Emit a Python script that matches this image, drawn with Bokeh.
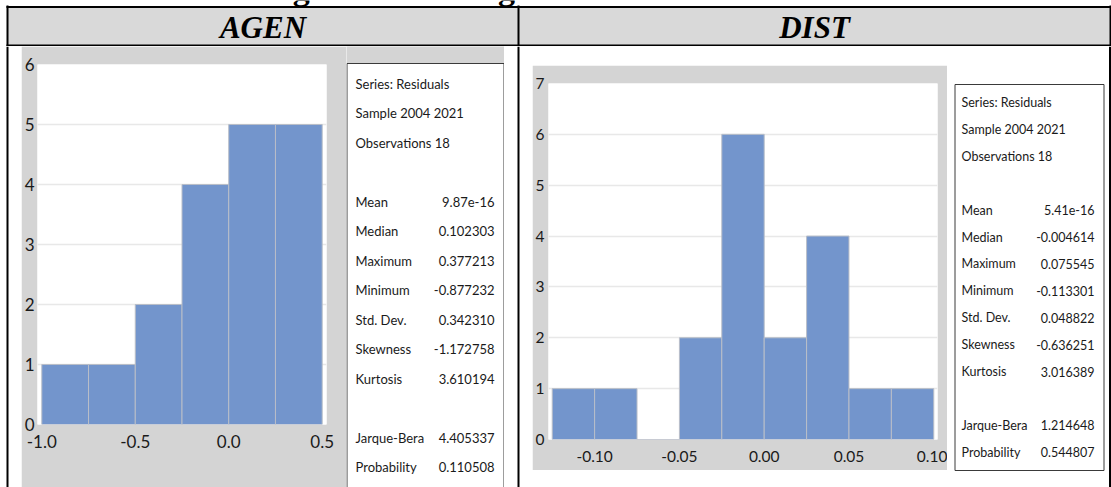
from bokeh.plotting import figure
from bokeh.layouts import row, column
from bokeh.models import Range1d, FixedTicker, Spacer
from bokeh.core.properties import value
from bokeh.embed import file_html
from bokeh.resources import INLINE

# ---------------- data ----------------
caption = "Figure 05: Histogram of Residuals data"
titles = ["AGEN", "DIST"]

agen_edges = [-1.0, -0.75, -0.5, -0.25, 0.0, 0.25, 0.5]
agen_counts = [1, 1, 2, 4, 5, 5]
agen_xticks = [-1.0, -0.5, 0.0, 0.5]
agen_xlabels = ["-1.0", "-0.5", "0.0", "0.5"]
agen_yticks = [0, 1, 2, 3, 4, 5, 6]

dist_edges = [-0.125, -0.100, -0.075, -0.050, -0.025, 0.000, 0.025, 0.050, 0.075, 0.100]
dist_counts = [1, 1, 0, 2, 6, 2, 4, 1, 1]
dist_xticks = [-0.10, -0.05, 0.0, 0.05, 0.10]
dist_xlabels = ["-0.10", "-0.05", "0.00", "0.05", "0.10"]
dist_yticks = [0, 1, 2, 3, 4, 5, 6, 7]

info_lines = ["Series: Residuals", "Sample 2004 2021", "Observations 18"]
stat_names = ["Mean", "Median", "Maximum", "Minimum", "Std. Dev.", "Skewness", "Kurtosis"]
agen_stats = ["9.87e-16", "0.102303", "0.377213", "-0.877232", "0.342310", "-1.172758", "3.610194"]
dist_stats = ["5.41e-16", "-0.004614", "0.075545", "-0.113301", "0.048822", "-0.636251", "3.016389"]
test_names = ["Jarque-Bera", "Probability"]
agen_tests = ["4.405337", "0.110508"]
dist_tests = ["1.214648", "0.544807"]

# ---------------- styles ----------------
HEADER_GRAY = "#d9d9d9"
PANEL_GRAY = "#d4d4d4"
BAR = "#7395cc"
BAR_EDGE = "#b9bec8"
GRID = "#e8e8e8"
INK = "#1a1a1a"
FONT = "Lato"
SERIF = "Liberation Serif"


def canvas(w, h, bg="white"):
    """A blank figure whose data units are pixels (y grows downwards)."""
    p = figure(width=w, height=h, x_range=Range1d(0, w), y_range=Range1d(h, 0),
               output_backend="svg", toolbar_location=None,
               x_axis_location=None, y_axis_location=None, min_border=0)
    p.grid.visible = False
    p.outline_line_color = None
    p.background_fill_color = bg
    p.border_fill_color = bg
    return p


def vline(p, x, y0, y1, width=2):
    p.segment(x0=[x], y0=[y0], x1=[x], y1=[y1], line_color="black", line_width=width)


# ---------------- header strip ----------------
header = canvas(1111, 46)
# the page's caption runs off the top edge; only its lowest strokes show
header.text(x=[262], y=[-12], text=[caption], text_font=value(SERIF), text_font_style="bold",
            text_font_size="34px", text_color="black", text_baseline="middle", text_align="left")
header.quad(left=[7, 518], right=[518, 1110], bottom=[45, 45], top=[6.5, 6.5],
            fill_color=HEADER_GRAY, line_color=None)
header.segment(x0=[6, 6], y0=[6.5, 45], x1=[1111, 1111], y1=[6.5, 45],
               line_color="black", line_width=2.2)
for xx in (7, 518, 1110):
    vline(header, xx, 5, 46)
header.text(x=[262.5, 814], y=[27, 27], text=titles, text_font=value(SERIF), text_font_style="bold italic",
            text_font_size="31px", text_color="black", text_baseline="middle", text_align="center")


# ---------------- histograms ----------------
def histogram(edges, counts, x0, x1, ymax, w, h, borders, xticks, xlabels, yticks,
              tick_size, x_standoff, y_standoff):
    left, right, top, bottom = borders
    p = figure(width=w, height=h, x_range=Range1d(x0, x1), y_range=Range1d(0, ymax),
               output_backend="svg", toolbar_location=None,
               min_border_left=left, min_border_right=right,
               min_border_top=top, min_border_bottom=bottom)
    p.border_fill_color = PANEL_GRAY
    p.background_fill_color = "white"
    p.outline_line_color = None
    p.xgrid.visible = False
    p.ygrid.ticker = FixedTicker(ticks=yticks)
    p.ygrid.grid_line_color = GRID
    p.ygrid.grid_line_width = 1.5
    p.quad(left=edges[:-1], right=edges[1:], bottom=0, top=counts,
           fill_color=BAR, line_color=BAR_EDGE, line_width=1)

    p.xaxis.ticker = FixedTicker(ticks=xticks)
    p.xaxis.major_label_overrides = dict(zip(xticks, xlabels))
    p.xaxis.major_label_standoff = x_standoff
    p.yaxis.ticker = FixedTicker(ticks=yticks)
    p.yaxis.major_label_standoff = y_standoff
    for ax in (p.xaxis, p.yaxis):
        ax.axis_line_color = None
        ax.major_tick_line_color = None
        ax.minor_tick_line_color = None
        ax.major_tick_out = 0
        ax.major_tick_in = 0
        ax.major_label_text_font = FONT
        ax.major_label_text_font_size = tick_size
        ax.major_label_text_color = INK
    return p


agen_hist = histogram(agen_edges, agen_counts, -1.023, 0.523, 6, 325, 441,
                      (13, 20, 18, 63), agen_xticks, agen_xlabels, agen_yticks,
                      "17px", 10, 3)
dist_hist = histogram(dist_edges, dist_counts, -0.1272, 0.1022, 7, 415, 405,
                      (12, 10, 18, 31), dist_xticks, dist_xlabels, dist_yticks,
                      "15.5px", 11, 4)


# ---------------- statistics boxes ----------------
def stats_box(p, box, lx, rx, y0, dy, size, values, tests):
    bx0, by0, bx1, by1 = box
    p.quad(left=[bx0], right=[bx1], top=[by0], bottom=[by1],
           fill_color="white", line_color="#3a3a3a", line_width=1)
    names, vals, rows = [], [], []
    for i, t in enumerate(info_lines):
        names.append(t); vals.append(""); rows.append(i)
    for i, (n, v) in enumerate(zip(stat_names, values)):
        names.append(n); vals.append(v); rows.append(4 + i)
    for i, (n, v) in enumerate(zip(test_names, tests)):
        names.append(n); vals.append(v); rows.append(12 + i)
    ys = [y0 + dy * r for r in rows]
    p.text(x=[lx] * len(names), y=ys, text=names, text_font=value(FONT), text_font_size=size,
           text_color=INK, text_baseline="middle", text_align="left")
    p.text(x=[rx] * len(vals), y=ys, text=vals, text_font=value(FONT), text_font_size=size,
           text_color=INK, text_baseline="middle", text_align="right")


# left part of the table
left_edge = canvas(21, 441)
vline(left_edge, 7, 0, 441)

agen_side = canvas(158, 441, PANEL_GRAY)
stats_box(agen_side, (0.5, 17, 157.5, 460), 9, 148, 37, 29.5, "13px", agen_stats, agen_tests)

middle = canvas(28, 441)
vline(middle, 14, 0, 441)

agen_col = column(agen_hist, spacing=0)
dist_col = column(Spacer(width=415, height=19), dist_hist, Spacer(width=415, height=17), spacing=0)

dist_side = canvas(164, 441)
stats_box(dist_side, (7.5, 38, 156.5, 424), 14, 147, 56, 26.9, "12.5px", dist_stats, dist_tests)
vline(dist_side, 162.5, 0, 441)

body = row(left_edge, agen_col, agen_side, middle, dist_col, dist_side, spacing=0)
page = column(header, body, spacing=0)

open("out.html", "w").write(file_html(page, INLINE))
